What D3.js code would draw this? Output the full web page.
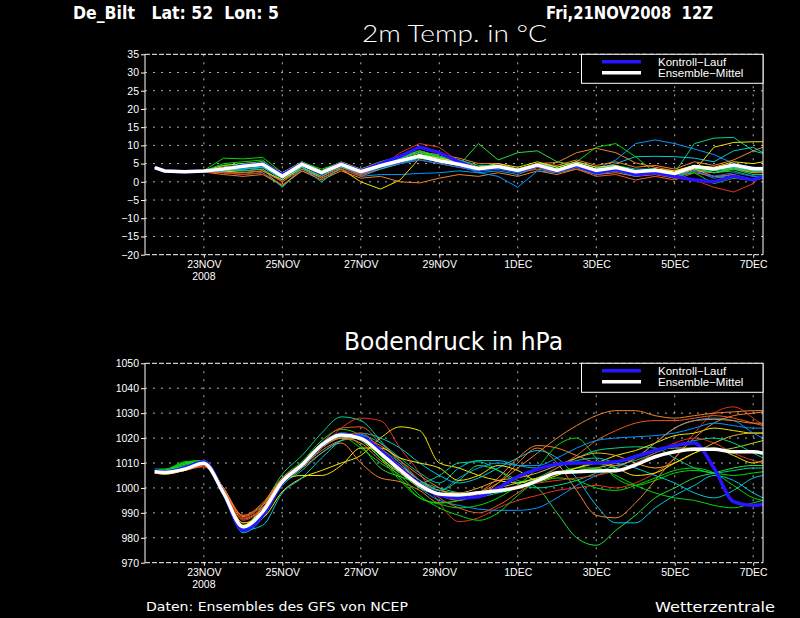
<!DOCTYPE html>
<html>
<head>
<meta charset="utf-8">
<script src="https://cdn.jsdelivr.net/npm/d3@7"></script>
<style>
  body { margin: 0; background: #000; }
  svg { display: block; }
</style>
</head>
<body>
<div id="chart"></div>
<script>
// forecast steps in hours after 21NOV2008 12Z
const hours = [6, 12, 24, 36, 48, 60, 72, 84, 96, 108, 120, 132, 144, 156, 168, 180, 192, 204, 216, 228,
  240, 252, 264, 276, 288, 300, 312, 324, 336, 348, 360, 372, 378];
const tickHours = [36, 84, 132, 180, 228, 276, 324, 372];
const tickLabels = ['23NOV', '25NOV', '27NOV', '29NOV', '1DEC', '3DEC', '5DEC', '7DEC'];
const tempTicks = [-20, -15, -10, -5, 0, 5, 10, 15, 20, 25, 30, 35];
const pressTicks = [970, 980, 990, 1000, 1010, 1020, 1030, 1040, 1050];

// 2m temperature (°C)
const tempMean = [3.9, 3.0, 2.8, 3.0, 3.5, 4.3, 4.8, 1.5, 4.8, 2.5, 4.8, 2.8, 4.4, 5.8, 7.1, 5.8, 4.8, 3.6, 4.2, 3.1,
  4.6, 3.1, 4.8, 3.1, 3.9, 2.8, 3.2, 2.3, 4.2, 3.5, 4.6, 3.6, 3.6];
const tempControl = [3.9, 3.0, 2.8, 3.0, 3.5, 4.5, 5.0, 2.0, 5.0, 2.5, 5.0, 3.0, 5.0, 7.0, 9.5, 8.0, 5.5, 3.5, 4.0, 3.0,
  4.5, 3.0, 4.5, 2.5, 3.5, 2.0, 2.5, 1.5, 0.5, 0.0, 1.5, 0.5, 1.5];
const tempMembers = [
  [3.9, 3.0, 2.9, 3.1, 6.5, 6.3, 6.7, 2.5, 5.4, 3.5, 5.2, 3.0, 5.0, 6.8, 8.0, 6.5, 5.0, 3.8, 4.0, 3.0, 4.0, 2.8, 4.2, 2.6, 3.8, 2.5, 3.0, 2.0, 3.5, 2.5, 3.8, 2.8, 3.0],
  [3.8, 2.9, 2.7, 3.0, 4.0, 4.5, 5.0, 1.8, 5.2, 2.8, 5.0, 3.2, 4.8, 6.0, 7.5, 6.0, 4.5, 10.5, 6.0, 8.0, 8.5, 5.5, 4.5, 3.2, 3.8, 3.0, 3.5, 2.5, 3.8, 3.0, 3.8, 2.5, 2.8],
  [3.9, 3.0, 2.8, 3.0, 3.0, 3.5, 4.0, 0.5, 4.5, 2.0, 4.5, 2.5, 4.0, 5.5, 6.5, 5.5, 4.5, 3.5, 4.0, 3.0, 4.2, 3.0, 4.5, 3.0, 3.5, 2.5, 3.0, 2.5, 10.5, 12.0, 12.2, 8.5, 7.8],
  [3.9, 3.1, 2.9, 3.0, 4.5, 5.0, 5.5, 2.0, 5.0, 3.0, 5.2, 3.0, 4.5, 6.5, 8.0, 6.8, 5.0, 3.8, 4.5, 3.5, 5.0, 4.0, 5.5, 9.5, 10.5, 6.9, 2.5, 2.0, 3.5, 2.5, 3.0, 1.5, 1.5],
  [3.9, 3.0, 2.7, 2.9, 3.0, 3.0, 3.5, 0.0, 4.0, 1.5, 4.0, 2.0, 3.5, 5.0, 6.0, 5.0, 4.0, 3.0, 4.0, 3.2, 5.0, 5.3, 8.0, 9.2, 8.0, 5.2, 4.0, 3.0, 4.5, 3.5, 4.0, 3.0, 3.0],
  [3.9, 3.0, 2.8, 3.0, 3.0, 3.5, 4.0, 1.0, 4.5, 2.0, 4.5, 1.5, 2.0, 2.0, 2.3, 2.5, 3.0, 2.5, 3.0, 2.0, 4.0, 3.0, 4.5, 3.5, 6.0, 10.5, 11.5, 10.5, 9.0, 7.5, 5.0, 4.0, 4.0],
  [3.9, 3.0, 2.6, 2.8, 2.5, 2.0, 2.5, -1.3, 3.5, 1.0, 3.5, 1.5, 3.5, 5.0, 6.5, 5.5, 4.5, 3.5, 4.0, 3.0, 4.5, 3.0, 4.5, 3.5, 5.0, 6.9, 7.0, 6.9, 6.5, 5.5, 8.5, 9.5, 8.0],
  [3.9, 3.0, 2.8, 3.0, 3.0, 2.5, 3.0, 0.5, 4.0, 1.0, 3.5, 0.0, -2.0, 0.5, 6.5, 6.0, 5.0, 3.5, 4.5, 3.0, 4.5, 3.5, 5.0, 3.0, 3.5, 2.0, 2.5, 1.5, 3.0, 9.5, 10.8, 11.0, 11.0],
  [3.9, 2.8, 2.5, 2.8, 2.5, 2.0, 2.5, -0.8, 3.0, 1.0, 3.5, 1.5, 4.0, 8.0, 10.5, 9.5, 5.5, 4.0, 4.0, 3.0, 4.0, 3.0, 4.0, 2.5, 3.0, 2.0, 2.5, 1.0, 0.5, -1.5, -2.8, -0.5, 2.3],
  [3.9, 2.9, 2.6, 2.7, 2.0, 1.5, 2.0, -1.0, 3.0, 0.5, 3.0, 1.0, 1.5, 0.0, -0.3, 1.0, 2.0, 1.5, 2.5, 1.5, 3.0, 2.0, 3.5, 2.0, 2.5, 1.5, 2.0, 1.0, 3.0, 2.5, 3.5, 2.5, 2.5],
  [3.9, 3.0, 2.9, 3.1, 4.5, 5.0, 5.5, 2.5, 5.5, 3.0, 5.5, 3.5, 5.5, 7.0, 8.5, 7.0, 5.5, 4.0, 4.5, 3.5, 5.0, 3.5, 5.0, 3.5, 4.0, 3.0, 3.5, 2.5, 4.5, 3.5, 4.5, 3.5, 3.5],
  [3.9, 3.0, 2.7, 2.9, 3.5, 4.0, 4.5, 1.0, 4.5, 2.5, 5.0, 3.0, 5.0, 6.5, 9.5, 8.0, 6.0, 4.0, 4.5, 3.0, 4.5, 3.0, 4.5, 3.0, 3.5, 2.0, 2.5, 1.5, 3.5, 1.5, 1.0, 0.5, 1.5],
  [3.9, 3.0, 2.8, 3.0, 3.5, 3.5, 4.0, 1.5, 4.5, 2.0, 4.5, 2.0, 4.0, 5.5, 7.0, 6.0, 4.5, 2.5, 1.5, -1.5, 3.0, 2.5, 4.0, 2.0, 3.0, 1.5, 2.5, 1.0, 3.0, 1.0, 2.0, 0.5, 1.0],
  [3.9, 2.9, 2.6, 2.8, 2.5, 2.5, 3.0, 0.0, 3.5, 1.5, 4.0, 2.0, 4.5, 6.5, 8.5, 7.0, 5.5, 3.5, 4.0, 2.5, 3.5, 2.5, 3.5, 1.5, 2.0, 0.5, 1.5, 0.5, 2.5, 1.5, 2.0, 0.5, 1.0],
  [3.9, 3.0, 2.7, 2.8, 3.0, 3.5, 4.0, 1.0, 4.0, 0.0, 4.0, 2.5, 4.5, 6.0, 7.5, 6.5, 5.0, 3.5, 4.0, 3.0, 5.0, 4.0, 5.5, 4.0, 4.5, 3.5, 3.5, 2.5, 4.5, 3.5, 4.0, 3.0, 3.0],
  [3.9, 3.0, 2.8, 3.0, 4.0, 4.5, 5.0, 2.0, 5.0, 3.0, 5.0, 3.0, 5.0, 6.5, 8.0, 7.5, 6.5, 5.0, 5.0, 3.5, 5.0, 4.5, 6.0, 4.5, 5.5, 4.0, 4.5, 3.5, 5.5, 4.5, 6.0, 8.5, 9.5],
  [3.9, 3.0, 2.8, 3.0, 5.0, 5.5, 6.0, 1.5, 5.5, 2.5, 5.0, 2.5, 4.5, 6.5, 8.5, 7.0, 5.0, 3.0, 3.5, 2.5, 4.0, 2.5, 4.0, 2.5, 3.5, 2.0, 3.0, 1.5, 2.5, -0.5, 1.0, 0.5, 1.0],
  [3.9, 3.0, 2.8, 3.0, 4.0, 4.5, 5.0, 2.5, 5.0, 3.0, 5.0, 3.0, 4.5, 6.0, 7.5, 6.5, 5.5, 4.0, 5.0, 4.0, 5.5, 4.0, 5.5, 4.0, 4.5, 3.0, 3.5, 3.0, 4.5, 4.0, 5.5, 5.0, 5.5],
  [3.9, 3.0, 2.8, 2.9, 3.5, 3.0, 3.5, -1.5, 4.0, 1.5, 4.5, 2.5, 5.0, 6.5, 8.0, 7.0, 6.0, 4.5, 4.5, 3.5, 4.5, 3.0, 4.5, 3.5, 4.0, 2.5, 3.0, 2.0, 4.0, 2.5, 3.5, 2.0, 2.0],
  [3.9, 3.0, 2.8, 3.0, 3.5, 4.0, 4.5, 1.0, 4.5, 2.0, 4.5, 2.5, 4.0, 5.0, 6.0, 5.0, 4.0, 3.0, 3.5, 2.5, 4.0, 2.5, 4.0, 2.5, 3.0, 2.0, 2.5, 1.5, 3.0, 1.5, 2.5, 1.5, 1.5]
];
const tempColors = ['#00dc00', '#28dc3c', '#00d28c', '#00dc00', '#f08228', '#0096ff', '#00c8dc', '#f0e600', '#e6321e', '#f08228',
  '#a0e632', '#e6af2d', '#0096ff', '#f05a1e', '#00c8c8', '#f08228', '#00dc00', '#f0e600', '#00d28c', '#1e64ff'];

// surface pressure (hPa)
const pressMean = [1006.5, 1006.2, 1007.5, 1009.9, 998.0, 984.4, 990.5, 1002.5, 1009.2, 1017.2, 1021.2, 1019.9, 1013.9, 1007.2, 1001.2, 997.6, 997.2, 998.1, 998.9, 1000.2,
  1002.9, 1006.1, 1006.5, 1006.8, 1006.9, 1009.2, 1012.5, 1014.5, 1015.5, 1015.5, 1014.5, 1014.5, 1013.9];
const pressControl = [1007.0, 1006.5, 1008.0, 1010.5, 998.0, 983.0, 989.0, 1002.0, 1009.0, 1017.0, 1021.5, 1020.5, 1015.0, 1008.0, 1001.5, 997.0, 996.0, 996.5, 1000.0, 1004.5,
  1007.5, 1009.5, 1010.0, 1010.0, 1010.5, 1012.5, 1015.0, 1017.0, 1018.0, 1008.0, 994.5, 993.0, 993.5];
const pressMembers = [
  [1007.5, 1007.5, 1010.5, 1011.0, 999.5, 983.5, 991.0, 1004.0, 1010.5, 1019.0, 1023.5, 1021.0, 1013.0, 1004.0, 996.0, 993.5, 992.0, 993.0, 996.0, 1001.0, 1008.0, 1017.0, 1020.0, 1012.0, 1004.0, 1001.0, 1003.0, 1006.0, 1007.0, 1006.0, 1005.0, 1006.0, 1006.5],
  [1007.0, 1007.0, 1010.0, 1010.5, 998.0, 982.5, 990.0, 1003.0, 1009.5, 1018.0, 1021.5, 1017.0, 1008.0, 1004.5, 1002.0, 999.0, 1003.0, 1009.0, 1007.0, 1003.0, 1000.0, 990.0, 980.0, 977.0, 983.0, 989.0, 996.0, 1000.0, 1004.0, 1006.0, 1008.0, 1009.0, 1009.0],
  [1006.5, 1006.0, 1007.5, 1009.5, 997.0, 985.0, 993.0, 1005.5, 1013.0, 1022.0, 1028.5, 1027.0, 1019.0, 1010.0, 1003.0, 1000.0, 998.0, 996.5, 998.0, 1000.0, 1004.0, 1008.0, 1012.0, 1015.0, 1016.0, 1016.5, 1016.0, 1012.0, 1008.0, 1006.0, 1007.0, 1008.0, 1008.0],
  [1006.0, 1006.0, 1007.0, 1009.0, 999.0, 988.0, 992.0, 1002.0, 1008.0, 1016.0, 1024.0, 1028.0, 1027.0, 1016.0, 1006.0, 994.0, 986.5, 988.0, 992.0, 995.0, 997.0, 999.0, 1000.0, 1001.0, 1000.0, 1002.0, 1006.0, 1012.0, 1022.0, 1030.0, 1032.5, 1028.0, 1025.0],
  [1006.5, 1006.5, 1008.0, 1010.0, 1000.0, 989.0, 994.0, 1004.0, 1008.0, 1014.0, 1018.0, 1010.0, 1004.0, 1002.5, 999.0, 994.0, 995.0, 998.0, 1002.0, 1008.0, 1014.0, 1020.0, 1025.0, 1029.0, 1031.0, 1031.0, 1029.0, 1028.0, 1029.0, 1030.0, 1030.5, 1031.0, 1031.0],
  [1006.5, 1006.0, 1007.0, 1009.0, 999.0, 986.0, 988.0, 998.5, 1004.0, 1007.0, 1010.0, 1013.0, 1020.0, 1024.5, 1023.0, 1010.0, 1008.0, 1005.0, 1003.0, 1002.0, 1004.0, 1006.0, 1008.0, 1010.0, 1013.0, 1015.0, 1018.0, 1021.0, 1022.0, 1024.0, 1023.0, 1022.0, 1022.0],
  [1007.0, 1007.0, 1008.0, 1010.0, 998.0, 983.0, 985.0, 998.0, 1004.0, 1012.0, 1019.0, 1022.0, 1020.0, 1016.0, 1010.0, 1005.0, 1002.0, 1004.0, 1008.0, 1012.0, 1015.0, 1012.0, 1004.0, 993.0, 986.0, 986.0, 992.0, 997.0, 1001.0, 1005.0, 1003.0, 998.0, 996.0],
  [1006.5, 1006.5, 1008.0, 1010.0, 998.5, 984.0, 990.0, 1002.0, 1009.0, 1016.0, 1020.0, 1020.0, 1015.0, 1008.0, 1000.0, 995.0, 993.0, 991.5, 991.0, 991.0, 992.0, 996.0, 1001.0, 1005.0, 1008.0, 1012.0, 1018.0, 1024.0, 1027.0, 1028.0, 1027.0, 1022.0, 1020.0],
  [1006.0, 1005.5, 1007.0, 1009.5, 1000.0, 987.5, 992.0, 1003.0, 1008.5, 1015.0, 1019.0, 1020.0, 1017.0, 1011.0, 1005.0, 1000.0, 996.0, 997.0, 1002.0, 1010.0, 1016.0, 1010.0, 999.0, 989.0, 988.0, 994.0, 1003.0, 1012.0, 1020.0, 1026.0, 1029.0, 1030.0, 1030.5],
  [1007.0, 1007.0, 1009.5, 1010.5, 998.0, 984.0, 990.0, 1002.5, 1009.0, 1017.0, 1021.0, 1019.0, 1012.0, 1006.0, 1000.0, 997.0, 996.0, 998.0, 1000.0, 1002.0, 1004.0, 1006.0, 1007.0, 1008.0, 1010.0, 1013.0, 1015.0, 1016.0, 1016.0, 1015.0, 1016.0, 1018.0, 1019.0],
  [1007.5, 1007.5, 1010.0, 1011.0, 998.5, 983.0, 989.0, 1001.0, 1008.0, 1016.0, 1020.5, 1016.0, 1010.0, 1005.0, 997.0, 992.0, 989.0, 987.0, 990.0, 997.0, 1003.0, 1006.0, 1008.0, 1008.0, 1005.0, 1001.0, 998.0, 996.0, 995.0, 993.0, 992.0, 994.0, 995.0],
  [1006.0, 1005.5, 1007.0, 1009.0, 998.0, 986.0, 990.0, 1001.5, 1008.0, 1016.0, 1020.0, 1020.5, 1015.0, 1009.0, 1003.0, 999.0, 998.0, 1000.0, 1003.0, 1004.0, 1006.0, 1009.0, 1012.0, 1014.0, 1013.0, 1010.0, 1008.0, 1010.0, 1014.0, 1018.0, 1021.0, 1022.0, 1022.0],
  [1006.0, 1006.0, 1007.0, 1008.5, 999.5, 989.0, 993.5, 1004.0, 1010.0, 1018.0, 1024.0, 1024.5, 1018.0, 1011.0, 1003.0, 996.0, 992.0, 990.0, 993.0, 998.0, 1003.0, 1008.0, 1013.0, 1019.0, 1023.0, 1026.0, 1027.0, 1027.0, 1028.0, 1029.0, 1028.0, 1026.0, 1025.0],
  [1007.0, 1007.0, 1008.5, 1010.0, 997.0, 982.0, 988.0, 1001.0, 1007.0, 1014.0, 1019.0, 1021.0, 1018.0, 1012.0, 1006.0, 1002.0, 1008.0, 1011.0, 1011.0, 1009.0, 1008.0, 1009.0, 1011.0, 1012.0, 1010.0, 1008.0, 1005.0, 1002.0, 998.0, 996.0, 999.0, 1004.0, 1005.0],
  [1006.5, 1006.5, 1008.0, 1010.0, 999.0, 984.5, 991.0, 1003.0, 1009.0, 1016.5, 1021.0, 1021.5, 1016.0, 1010.0, 1003.0, 999.0, 1004.0, 1008.0, 1010.0, 1009.0, 1009.0, 1012.0, 1016.0, 1019.0, 1020.0, 1020.5, 1021.0, 1022.0, 1024.0, 1026.0, 1025.0, 1024.0, 1024.0],
  [1006.5, 1006.0, 1007.5, 1009.5, 999.0, 985.0, 992.0, 1003.0, 1005.0, 1005.0, 1009.0, 1016.0, 1016.0, 1012.0, 1010.0, 1008.0, 1003.0, 1005.0, 1009.0, 1007.0, 1003.0, 1005.0, 1008.0, 1010.0, 1008.0, 1005.0, 1006.0, 1010.0, 1014.0, 1016.0, 1013.0, 1010.0, 1011.0],
  [1007.0, 1007.0, 1009.0, 1010.5, 998.0, 983.5, 990.0, 1003.0, 1010.0, 1018.0, 1022.0, 1021.0, 1014.0, 1006.0, 1002.0, 1005.0, 1010.0, 1010.5, 1007.0, 1002.0, 1000.0, 1001.0, 1003.0, 1006.0, 1009.0, 1011.0, 1014.0, 1017.0, 1019.0, 1020.0, 1018.0, 1014.0, 1012.0],
  [1006.0, 1006.0, 1007.0, 1009.0, 1000.0, 988.5, 993.0, 1003.5, 1009.0, 1017.0, 1020.0, 1018.0, 1011.0, 1006.0, 1001.0, 997.0, 995.0, 998.0, 1004.0, 1012.0, 1017.0, 1016.0, 1013.0, 1010.0, 1009.0, 1012.0, 1018.0, 1024.0, 1027.0, 1027.5, 1027.0, 1026.0, 1026.0],
  [1007.0, 1007.0, 1009.5, 1010.5, 998.5, 984.0, 990.5, 1002.0, 1009.5, 1017.5, 1022.0, 1020.0, 1012.0, 1003.0, 996.0, 994.0, 995.0, 997.0, 999.0, 1000.0, 1002.0, 1004.0, 1003.0, 1000.0, 999.0, 1001.0, 1004.0, 1007.0, 1008.0, 1006.0, 1001.0, 996.0, 995.0],
  [1006.0, 1006.0, 1007.5, 1009.0, 999.0, 987.0, 992.0, 1003.0, 1009.0, 1016.0, 1021.0, 1022.0, 1016.0, 1009.0, 1002.0, 997.0, 996.0, 997.0, 999.0, 1001.0, 1002.0, 1003.0, 1004.0, 1005.0, 1007.0, 1010.0, 1014.0, 1018.0, 1020.0, 1018.0, 1014.0, 1011.0, 1010.0]
];
const pressColors = ['#00dc00', '#28dc3c', '#00d28c', '#e6321e', '#f08228', '#f0e600', '#00c8dc', '#0096ff', '#f08228', '#a0e632',
  '#00dc00', '#e6af2d', '#f05a1e', '#00c8c8', '#0096ff', '#f0e600', '#00d28c', '#f08228', '#00dc00', '#e6321e'];

const width = 800;
const height = 618;
const left = 145;
const right = 763;
const font = 'Liberation Sans, Arial, sans-serif';

const svg = d3.select('#chart').append('svg')
  .attr('width', width)
  .attr('height', height);

svg.append('rect')
  .attr('width', width)
  .attr('height', height)
  .attr('fill', '#000');

const x = d3.scaleLinear()
  .domain([0, 378])
  .range([left, right]);

function drawPanel(opt) {
  const y = d3.scaleLinear()
    .domain([opt.ticks[0], opt.ticks[opt.ticks.length - 1]])
    .range([opt.bottom, opt.top]);

  const g = svg.append('g');

  // dotted grid
  g.append('g').selectAll('line')
    .data(opt.ticks.slice(1, -1))
    .join('line')
    .attr('x1', left).attr('x2', right)
    .attr('y1', d => y(d)).attr('y2', d => y(d))
    .attr('stroke', '#b0b0b0')
    .attr('stroke-dasharray', '2,6');

  g.append('g').selectAll('line')
    .data(tickHours)
    .join('line')
    .attr('x1', d => x(d)).attr('x2', d => x(d))
    .attr('y1', opt.top).attr('y2', opt.bottom)
    .attr('stroke', '#b0b0b0')
    .attr('stroke-dasharray', '2,6');

  svg.append('clipPath')
    .attr('id', opt.id)
    .append('rect')
    .attr('x', left).attr('y', opt.top)
    .attr('width', right - left).attr('height', opt.bottom - opt.top);

  const line = d3.line()
    .x((d, i) => x(hours[i]))
    .y(d => y(d))
    .curve(opt.curve);

  const lines = g.append('g').attr('clip-path', `url(#${opt.id})`);

  lines.selectAll('.member')
    .data(opt.members)
    .join('path')
    .attr('class', 'member')
    .attr('d', line)
    .attr('fill', 'none')
    .attr('stroke', (d, i) => opt.colors[i])
    .attr('stroke-width', 1);

  lines.append('path')
    .attr('d', line(opt.control))
    .attr('fill', 'none')
    .attr('stroke', '#2814ff')
    .attr('stroke-width', 3.5);

  lines.append('path')
    .attr('d', line(opt.mean))
    .attr('fill', 'none')
    .attr('stroke', '#fff')
    .attr('stroke-width', 3.5);

  // frame: solid sides, dashed top and bottom
  g.append('line')
    .attr('x1', left).attr('x2', left)
    .attr('y1', opt.top).attr('y2', opt.bottom)
    .attr('stroke', '#fff');
  g.append('line')
    .attr('x1', right).attr('x2', right)
    .attr('y1', opt.top).attr('y2', opt.bottom)
    .attr('stroke', '#fff');
  [opt.top, opt.bottom].forEach(v => {
    g.append('line')
      .attr('x1', left).attr('x2', right)
      .attr('y1', v).attr('y2', v)
      .attr('stroke', '#fff')
      .attr('stroke-dasharray', '5,2');
  });

  // axes
  const yAxisG = g.append('g')
    .attr('transform', `translate(${left},0)`)
    .call(d3.axisLeft(y)
      .tickValues(opt.ticks)
      .tickFormat(d3.format('d'))
      .tickSize(4)
      .tickPadding(2)
      .tickSizeOuter(0));
  yAxisG.select('.domain').remove();

  const xAxisG = g.append('g')
    .attr('transform', `translate(0,${opt.bottom})`)
    .call(d3.axisBottom(x)
      .tickValues(tickHours)
      .tickFormat((d, i) => tickLabels[i])
      .tickSize(3)
      .tickPadding(3)
      .tickSizeOuter(0));
  xAxisG.select('.domain').remove();

  [yAxisG, xAxisG].forEach(a => {
    a.attr('color', '#fff')
      .attr('font-family', font)
      .attr('font-size', 10.5);
  });

  g.append('text')
    .attr('x', x(tickHours[0]))
    .attr('y', opt.bottom + 25)
    .attr('text-anchor', 'middle')
    .attr('fill', '#fff')
    .attr('font-family', font)
    .attr('font-size', 10.5)
    .text('2008');

  // legend
  const lg = g.append('g');
  lg.append('rect')
    .attr('x', 581.5).attr('y', opt.top)
    .attr('width', right - 581.5).attr('height', 29)
    .attr('fill', '#000')
    .attr('stroke', '#fff');
  const items = [['Kontroll\u2212Lauf', '#2814ff'], ['Ensemble\u2212Mittel', '#fff']];
  items.forEach((it, i) => {
    const ly = opt.top + 7.5 + i * 11;
    lg.append('line')
      .attr('x1', 602).attr('x2', 641)
      .attr('y1', ly).attr('y2', ly)
      .attr('stroke', it[1])
      .attr('stroke-width', 3.5);
    lg.append('text')
      .attr('x', 658)
      .attr('y', ly + 4)
      .attr('fill', '#fff')
      .attr('font-family', font)
      .attr('font-size', 11.5)
      .text(it[0]);
  });

  // panel title
  svg.append('text')
    .attr('x', opt.titleX)
    .attr('y', opt.titleY)
    .attr('fill', '#fff')
    .attr('font-family', opt.titleFont)
    .attr('font-weight', opt.titleWeight)
    .attr('font-size', opt.titleSize)
    .attr('textLength', opt.titleLen)
    .attr('lengthAdjust', 'spacingAndGlyphs')
    .text(opt.title);
}

drawPanel({
  id: 'clip-temp',
  top: 54.3,
  bottom: 254.7,
  ticks: tempTicks,
  members: tempMembers,
  colors: tempColors,
  control: tempControl,
  mean: tempMean,
  curve: d3.curveLinear,
  title: '2m Temp. in °C',
  titleX: 362,
  titleY: 42,
  titleSize: 24,
  titleWeight: 300,
  titleFont: 'Lato, DejaVu Sans, sans-serif',
  titleLen: 185
});

drawPanel({
  id: 'clip-press',
  top: 363.3,
  bottom: 562.7,
  ticks: pressTicks,
  members: pressMembers,
  colors: pressColors,
  control: pressControl,
  mean: pressMean,
  curve: d3.curveMonotoneX,
  title: 'Bodendruck in hPa',
  titleX: 344,
  titleY: 350,
  titleSize: 25,
  titleWeight: 400,
  titleFont: 'DejaVu Sans, sans-serif',
  titleLen: 219
});

// header and footer
const header = [
  ['De_Bilt   Lat: 52  Lon: 5', 73, 19, 17, 'bold', 206],
  ['Fri,21NOV2008  12Z', 546, 19, 17, 'bold', 167],
  ['Daten: Ensembles des GFS von NCEP', 146, 611, 12, 'normal', 262],
  ['Wetterzentrale', 655, 612, 14, 'normal', 120]
];
svg.selectAll('.hdr')
  .data(header)
  .join('text')
  .attr('class', 'hdr')
  .attr('x', d => d[1])
  .attr('y', d => d[2])
  .attr('font-size', d => d[3])
  .attr('font-weight', d => d[4])
  .attr('textLength', d => d[5])
  .attr('lengthAdjust', 'spacingAndGlyphs')
  .attr('font-family', 'DejaVu Sans, sans-serif')
  .attr('fill', '#fff')
  .style('white-space', 'pre')
  .text(d => d[0]);
</script>
</body>
</html>
